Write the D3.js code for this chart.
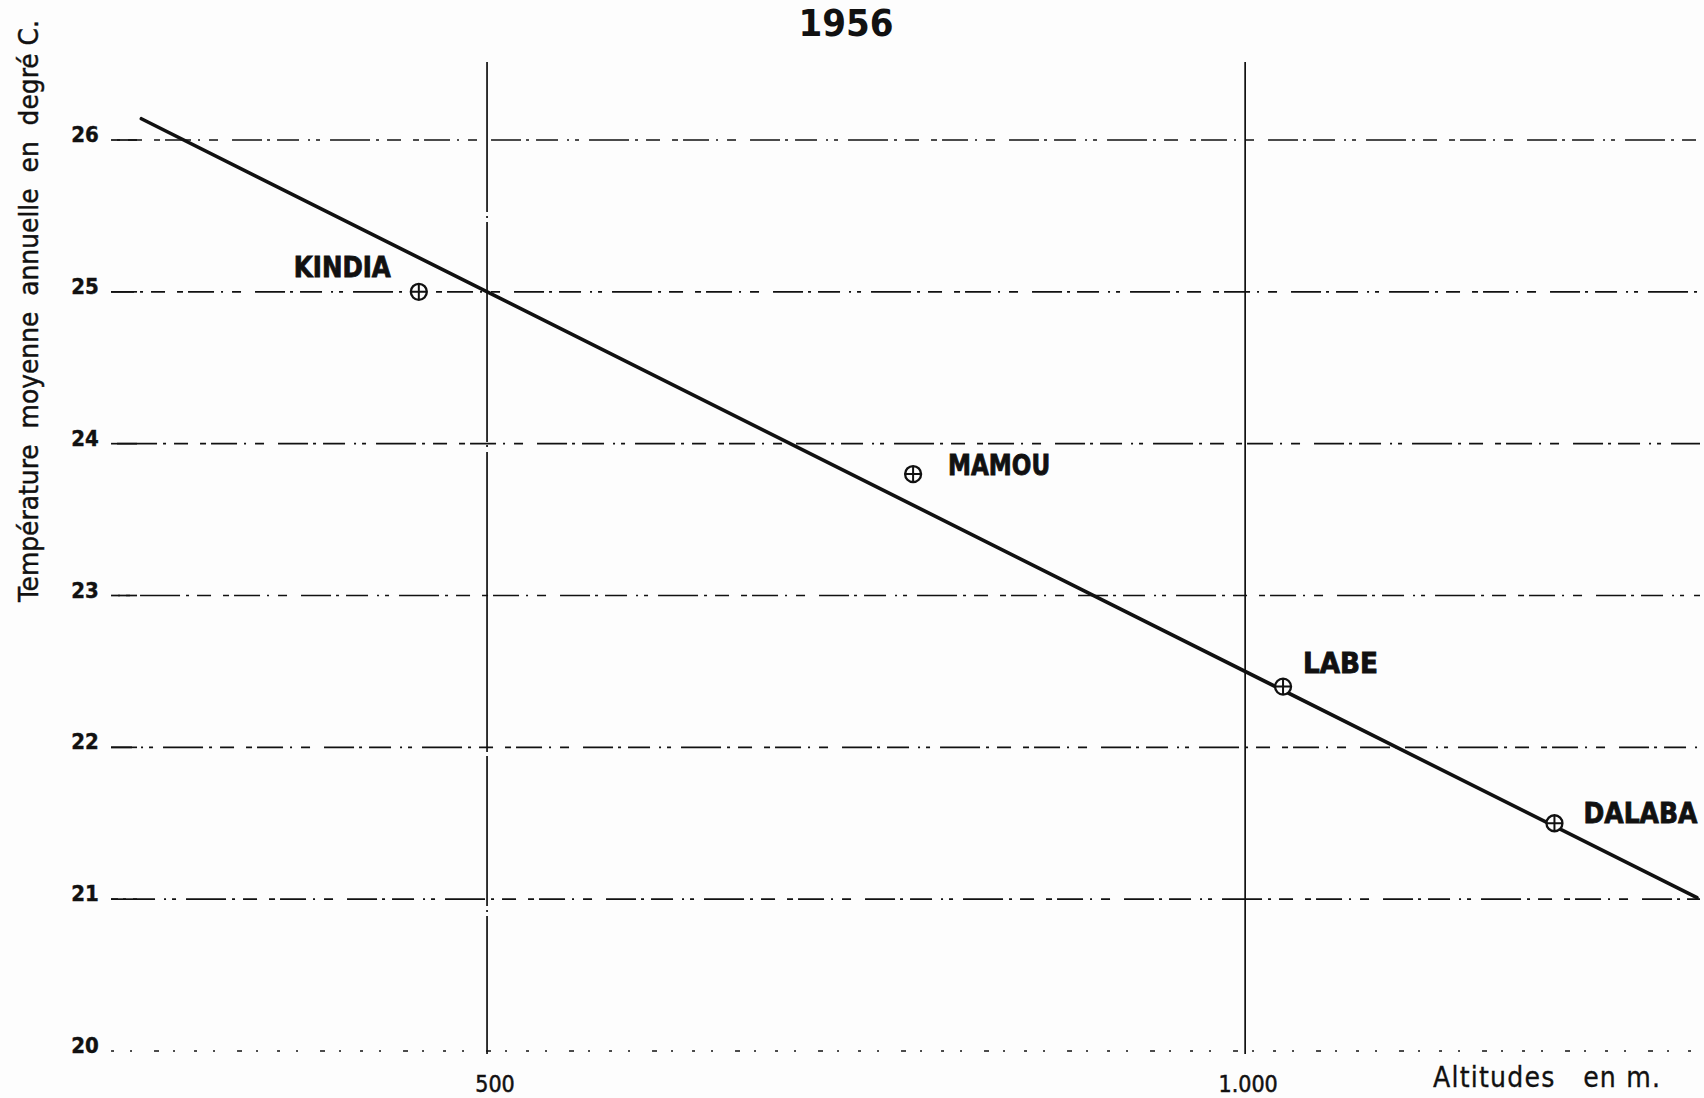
<!DOCTYPE html>
<html>
<head>
<meta charset="utf-8">
<script src="https://cdn.jsdelivr.net/npm/d3@7"></script>
<style>
  html, body { margin: 0; padding: 0; background: #fdfdfd; }
  svg { display: block; }
  text { font-family: "DejaVu Sans Condensed", "DejaVu Sans", sans-serif; font-stretch: condensed; fill: #111; }
</style>
</head>
<body>
<script>
// Stations of Guinea: altitude (m) and mean annual temperature (°C), 1956
const stations = ["KINDIA", "MAMOU", "LABE", "DALABA"];
const altitudes = [455, 781, 1025, 1204];
const temperatures = [25.0, 23.8, 22.4, 21.5];

// Fitted lapse-rate line (endpoints)
const trendAltitudes = [272, 1298];
const trendTemperatures = [26.14, 21.01];

// Axis ticks
const yTicks = [20, 21, 22, 23, 24, 25, 26];
const xTicks = [500, 1000];
const xTickLabels = ["500", "1.000"];

const title = "1956";
const yTitle = "Température  moyenne  annuelle  en  degré C.";
const xTitle = "Altitudes   en m.";

const W = 1704, H = 1098;
const ink = "#111";

const svg = d3.select("body").append("svg")
  .attr("width", W).attr("height", H)
  .style("background", "#fdfdfd");

const x = d3.scaleLinear().domain([250, 1300]).range([108, 1700]);
const y = d3.scaleLinear().domain([20, 26]).range([1051, 140]);

// Horizontal broken (dash-dot, worn) grid lines with tick labels
const gridDash = "30,5,3,7,22,9,2,6,4,10,40,6,3,8,14,12,6,5,26,7,2,9,9,14";
const hg = svg.append("g");
hg.selectAll("line").data(yTicks).join("line")
  .attr("x1", x(252)).attr("x2", x(1300))
  .attr("y1", d => y(d)).attr("y2", d => y(d))
  .attr("stroke", ink).attr("stroke-width", 1.7)
  .attr("stroke-dasharray", (d, i) => i === 0 ? "3,16,2,22,5,14,2,19" : gridDash)
  .attr("stroke-dashoffset", (d, i) => i * 23);
// solid lead-in of each grid line near the axis
hg.selectAll("line.lead").data(yTicks).join("line").attr("class", "lead")
  .attr("x1", x(252)).attr("x2", x(252) + 26)
  .attr("y1", d => y(d)).attr("y2", d => y(d))
  .attr("stroke", ink).attr("stroke-width", 1.7)
  .attr("opacity", (d, i) => i === 0 ? 0 : 1);

hg.selectAll("text").data(yTicks).join("text")
  .attr("x", 85).attr("y", d => y(d) + 2)
  .attr("text-anchor", "middle")
  .attr("font-size", 22).attr("font-weight", "bold")
  .attr("stroke", ink).attr("stroke-width", 0.4)
  .text(d => d);

// Vertical grid lines at 500 m and 1000 m
const vg = svg.append("g");
vg.selectAll("line").data(xTicks).join("line")
  .attr("x1", d => x(d)).attr("x2", d => x(d))
  .attr("y1", 62).attr("y2", 1054)
  .attr("stroke", ink).attr("stroke-width", 1.7)
  .attr("stroke-dasharray", (d, i) => i === 0 ? "150,4,2,4,220,3,2,5,300,4" : null);

vg.selectAll("text").data(xTicks).join("text")
  .attr("x", (d, i) => x(d) + (i === 0 ? 8 : 3))
  .attr("y", 1092)
  .attr("text-anchor", "middle")
  .attr("font-size", 23)
  .attr("stroke", ink).attr("stroke-width", 0.5)
  .text((d, i) => xTickLabels[i]);

// Axis titles
svg.append("text")
  .attr("x", 1433).attr("y", 1087)
  .attr("font-size", 28)
  .attr("stroke", ink).attr("stroke-width", 0.3)
  .attr("textLength", 227).attr("lengthAdjust", "spacing")
  .style("white-space", "pre")
  .text(xTitle);

svg.append("text")
  .attr("transform", "translate(38,602) rotate(-90)")
  .attr("font-size", 27)
  .attr("stroke", ink).attr("stroke-width", 0.45)
  .attr("textLength", 582).attr("lengthAdjust", "spacingAndGlyphs")
  .style("white-space", "pre")
  .text(yTitle);

svg.append("text")
  .attr("x", 846).attr("y", 36)
  .attr("text-anchor", "middle")
  .attr("font-size", 38).attr("font-weight", "bold")
  .text(title);

// Fitted line
const line = d3.line().x(d => x(d[0])).y(d => y(d[1]));
svg.append("path")
  .datum(trendAltitudes.map((a, i) => [a, trendTemperatures[i]]))
  .attr("d", line)
  .attr("fill", "none").attr("stroke", ink)
  .attr("stroke-width", 3.6).attr("stroke-linecap", "round");

// Station markers (circle with cross) and names
const data = stations.map((s, i) => ({ name: s, alt: altitudes[i], t: temperatures[i] }));
const labelOffsets = [[-125, -15], [35, 1], [20, -14], [29, 0]];
const labelWidths = [97, 102, 75, 114];

const st = svg.append("g").selectAll("g").data(data).join("g")
  .attr("transform", d => `translate(${x(d.alt)},${y(d.t)})`);
st.append("circle").attr("r", 8)
  .attr("fill", "#fdfdfd").attr("stroke", ink).attr("stroke-width", 2.3);
st.append("path").attr("d", "M-8,0H8M0,-8V8")
  .attr("stroke", ink).attr("stroke-width", 2);
st.append("text")
  .attr("x", (d, i) => labelOffsets[i][0])
  .attr("y", (d, i) => labelOffsets[i][1])
  .attr("font-size", 28).attr("font-weight", "bold")
  .attr("stroke", ink).attr("stroke-width", 0.8)
  .attr("textLength", (d, i) => labelWidths[i]).attr("lengthAdjust", "spacingAndGlyphs")
  .text(d => d.name);
</script>
</body>
</html>
